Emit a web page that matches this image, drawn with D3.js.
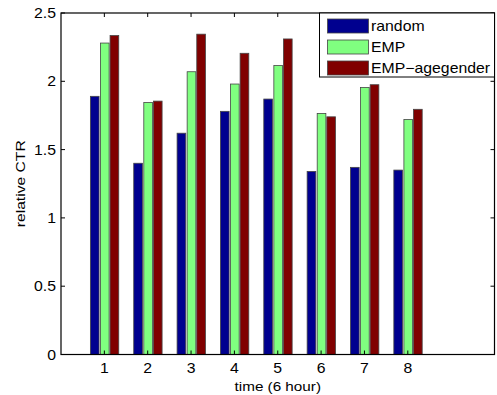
<!DOCTYPE html>
<html>
<head>
<meta charset="utf-8">
<script src="https://cdn.jsdelivr.net/npm/d3@7"></script>
<style>
  html, body { margin: 0; padding: 0; background: #fff; }
  svg { display: block; }
  text { font-family: "Liberation Sans", Arial, sans-serif; fill: #000; }
</style>
</head>
<body>
<svg id="chart" width="497" height="395"></svg>
<script>
const categories = [1, 2, 3, 4, 5, 6, 7, 8];
const seriesNames = ["random", "EMP", "EMP\u2212agegender"];
const randomVals = [1.89, 1.40, 1.62, 1.78, 1.87, 1.34, 1.37, 1.35];
const empVals = [2.28, 1.845, 2.07, 1.98, 2.115, 1.765, 1.955, 1.72];
const empAgeVals = [2.335, 1.855, 2.345, 2.205, 2.31, 1.74, 1.975, 1.795];
const yTicks = [0, 0.5, 1, 1.5, 2, 2.5];
const xTicks = [1, 2, 3, 4, 5, 6, 7, 8];
const colors = ["#00008f", "#80ff80", "#800000"];

const series = [randomVals, empVals, empAgeVals];

const svg = d3.select("#chart");
const L = 61, R = 494.5, T = 13, B = 354.5;
const x = d3.scaleLinear().domain([0, 10]).range([L, R]);
const y = d3.scaleLinear().domain([0, 2.5]).range([B, T]);
const TX = 1.13; // horizontal text stretch as in reference

const barW = 0.2, step = 0.222;
const offsets = [-step - barW / 2, -barW / 2 + 0.01, step - barW / 2 + 0.01];

// bars
series.forEach((vals, si) => {
  svg.append("g").selectAll("rect").data(vals).join("rect")
    .attr("x", (d, i) => x(categories[i] + offsets[si]))
    .attr("width", x(barW) - x(0))
    .attr("y", d => y(d))
    .attr("height", d => y(0) - y(d))
    .attr("fill", colors[si])
    .attr("stroke", "#454545")
    .attr("stroke-width", 0.8);
});

// frame
svg.append("rect").attr("x", L).attr("y", T).attr("width", R - L).attr("height", B - T)
  .attr("fill", "none").attr("stroke", "#000").attr("stroke-width", 1.2);

// ticks (inside, all four sides)
const tl = 4;
const tg = svg.append("g").attr("stroke", "#000").attr("stroke-width", 1);
yTicks.forEach(v => {
  tg.append("line").attr("x1", L).attr("x2", L + tl).attr("y1", y(v)).attr("y2", y(v));
  tg.append("line").attr("x1", R - tl).attr("x2", R).attr("y1", y(v)).attr("y2", y(v));
});
xTicks.forEach(v => {
  tg.append("line").attr("x1", x(v)).attr("x2", x(v)).attr("y1", T).attr("y2", T + tl);
  tg.append("line").attr("x1", x(v)).attr("x2", x(v)).attr("y1", B - tl).attr("y2", B);
});

function hText(xp, yp, str, anchor, size) {
  svg.append("g").attr("transform", `translate(${xp},${yp}) scale(${TX},1)`)
    .append("text").attr("text-anchor", anchor).attr("font-size", size).text(str);
}

// tick labels
yTicks.forEach(v => hText(56, y(v) + 5, d3.format("")(v), "end", 14));
xTicks.forEach(v => hText(x(v), 373, String(v), "middle", 14));

// axis labels
hText((L + R) / 2, 391, "time (6 hour)", "middle", 13.5);
svg.append("g").attr("transform", `translate(25,${(T + B) / 2}) rotate(-90) scale(1.16,1)`)
  .append("text").attr("text-anchor", "middle").attr("font-size", 13.5).text("relative CTR");

// legend
const lg = svg.append("g");
lg.append("rect").attr("x", 319.5).attr("y", 13).attr("width", 175).attr("height", 64)
  .attr("fill", "#fff").attr("stroke", "#000").attr("stroke-width", 1);
const rowY = [26, 47, 68];
seriesNames.forEach((name, i) => {
  lg.append("rect").attr("x", 327.5).attr("y", rowY[i] - 7).attr("width", 41).attr("height", 14)
    .attr("fill", colors[i]).attr("stroke", "#454545").attr("stroke-width", 0.8);
  hText(371, rowY[i] + 5, name, "start", 14);
});
</script>
</body>
</html>
